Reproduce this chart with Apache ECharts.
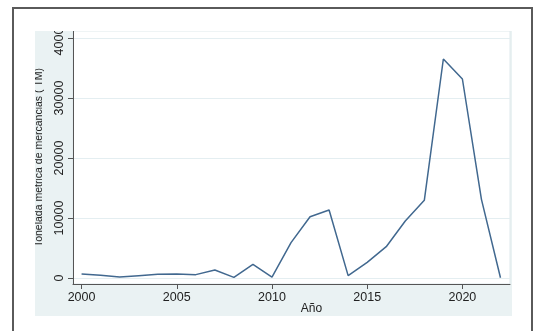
<!DOCTYPE html>
<html>
<head>
<meta charset="utf-8">
<script src="https://cdn.jsdelivr.net/npm/echarts@6/dist/echarts.min.js"></script>
<style>
  html, body { margin: 0; padding: 0; background: #fff; }
  #chart { width: 540px; height: 331px; }
</style>
</head>
<body>
<div id="chart"></div>
<script>
// años y toneladas
let years = [2000, 2001, 2002, 2003, 2004, 2005, 2006, 2007, 2008, 2009, 2010,
    2011, 2012, 2013, 2014, 2015, 2016, 2017, 2018, 2019, 2020, 2021, 2022];
let tons = [650, 450, 170, 390, 610, 670, 560, 1330, 110, 2280, 150,
    5890, 10220, 11330, 390, 2610, 5220, 9500, 12950, 36500, 33170, 13110, 50];
let xTicks = [2000, 2005, 2010, 2015, 2020];
let yTicks = [0, 10000, 20000, 30000, 40000];

let series = years.map((y, i) => [y, tons[i]]);

let font = '"Liberation Sans", Arial, sans-serif';
let white = '#ffffff';
let plain = (v) => String(v);   // sin separador de miles

let option = {
    animation: false,
    backgroundColor: '#eaf2f3',
    grid: {
        left: 73, right: 30, top: 31, bottom: 47,
        show: true,
        backgroundColor: white,
        borderColor: '#dfe9ec',
        borderWidth: 1
    },
    xAxis: {
        type: 'value',
        min: 1999.55,
        max: 2022.5,
        name: 'Año',
        nameLocation: 'middle',
        nameGap: 19,
        nameMoveOverlap: false,
        nameTextStyle: { fontFamily: font, fontSize: 12, color: '#222', padding: [0, 0, 0, 40] },
        axisLine: { show: true, onZero: false, lineStyle: { color: '#555', width: 1 } },
        axisTick: { show: true, length: 5, customValues: xTicks, lineStyle: { color: '#555' } },
        axisLabel: { customValues: xTicks, formatter: plain, margin: 7, fontFamily: font, fontSize: 12.5, color: '#222' },
        splitLine: { show: false }
    },
    yAxis: {
        type: 'value',
        min: -1000,
        max: 41170,
        name: 'Tonelada metrica de mercancias ( TM)',
        nameLocation: 'middle',
        nameGap: 26,
        nameTextStyle: { fontFamily: font, fontSize: 10.5, color: '#222' },
        axisLine: { show: true, lineStyle: { color: '#555', width: 1 } },
        axisTick: { show: true, length: 5, customValues: yTicks, lineStyle: { color: '#555' } },
        axisLabel: { customValues: yTicks, formatter: plain, rotate: 90, margin: 7, fontFamily: font, fontSize: 12.5, color: '#222' },
        splitLine: { show: true, lineStyle: { color: '#e4eef1', width: 1 } }
    },
    series: [{
        type: 'line',
        data: series,
        symbol: 'none',
        lineStyle: { color: '#41688f', width: 1.5 }
    }],
    // zona blanca fuera de la region del grafico + marco
    graphic: [
        { type: 'rect', z: 100, silent: true, shape: { x: 0, y: 0, width: 540, height: 31 }, style: { fill: white } },
        { type: 'rect', z: 100, silent: true, shape: { x: 0, y: 0, width: 35, height: 331 }, style: { fill: white } },
        { type: 'rect', z: 100, silent: true, shape: { x: 512, y: 0, width: 28, height: 331 }, style: { fill: white } },
        { type: 'rect', z: 100, silent: true, shape: { x: 0, y: 316, width: 540, height: 15 }, style: { fill: white } },
        { type: 'rect', z: 101, silent: true, shape: { x: 13, y: 8, width: 519, height: 340 },
          style: { fill: 'none', stroke: '#5a5a5a', lineWidth: 2 } }
    ]
};

let chart = echarts.init(document.getElementById('chart'), null, { renderer: 'canvas' });
chart.setOption(option);
</script>
</body>
</html>
